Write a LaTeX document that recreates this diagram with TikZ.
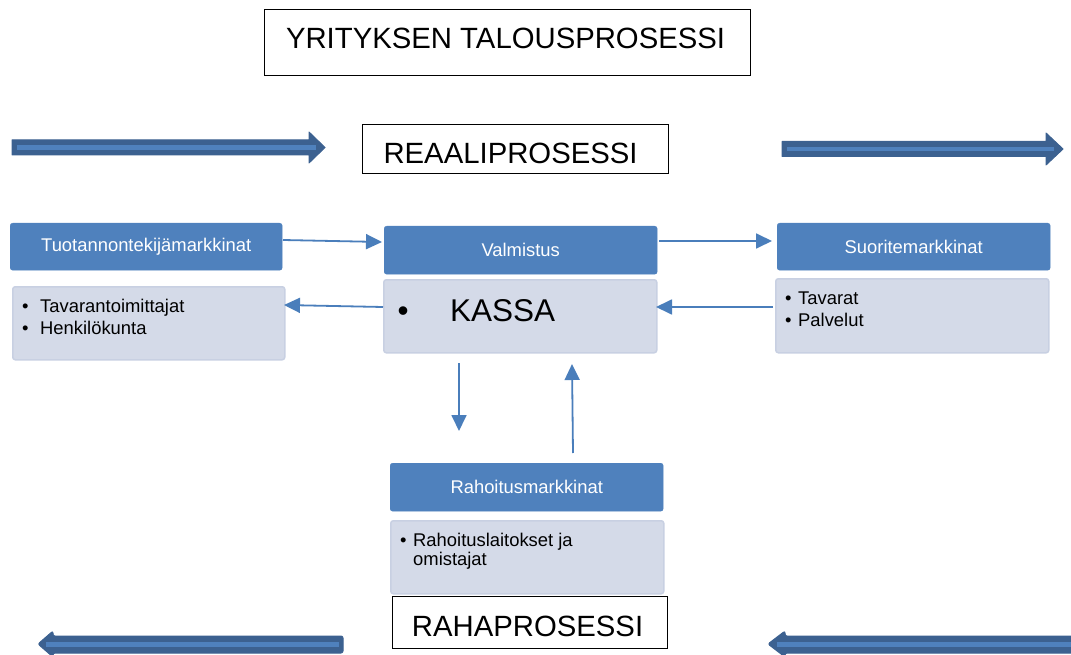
\documentclass[tikz,border=0pt]{standalone}
\usepackage{fontspec}
\setmainfont{Liberation Sans}
\usetikzlibrary{arrows.meta}
\definecolor{hdrblue}{HTML}{4F81BD}
\definecolor{bodyfill}{HTML}{D4DAE8}
\definecolor{bodyline}{HTML}{C8D0E2}
\definecolor{arrblue}{HTML}{4A7EBB}
\definecolor{bigdark}{HTML}{3C6190}
\definecolor{biglight}{HTML}{4F81BD}
\begin{document}
\begin{tikzpicture}[x=1pt,y=-1pt,
 hdr/.style={fill=hdrblue, draw=hdrblue, rounded corners=2.5pt, anchor=north west, inner sep=0pt, text=white, font=\fontsize{18.4}{22}\selectfont},
 body/.style={fill=bodyfill, draw=bodyline, line width=1.5pt, rounded corners=2.5pt, anchor=north west, inner sep=0pt},
 titlebox/.style={draw=black, line width=1.1pt, anchor=north west, inner sep=0pt, font=\fontsize{29.3}{35}\selectfont},
 itemtxt/.style={anchor=base west, inner sep=0pt, font=\fontsize{18.4}{22}\selectfont},
 conn/.style={draw=arrblue, line width=1.8pt, -{Triangle[length=16pt,width=15pt]}},
 bigarrow/.style={fill=bigdark, draw=bigdark, line width=1pt, line join=round},
 bigstripe/.style={draw=biglight, line width=4.5pt}
]
\useasboundingbox (0,0) rectangle (1071,655);
\clip (0,0) rectangle (1071,655);

% titles
\node[titlebox, minimum width=486pt, minimum height=66pt, text depth=9pt] (title) at (264,9) {\hspace*{-4pt}YRITYKSEN TALOUSPROSESSI};
\node[titlebox, minimum width=306pt, minimum height=49pt, text height=28pt, text depth=0pt] (reaali) at (362,124) {\hspace*{-10pt}REAALIPROSESSI};

% big arrows top
\path[bigarrow] (12,140) -- (309,140) -- (309,132) -- (325,147.5) -- (309,163) -- (309,155) -- (12,155) -- cycle;
\draw[bigstripe] (17,147.5) -- (316,147.5);
\path[bigarrow] (782,141.5) -- (1046,141.5) -- (1046,133) -- (1063,149) -- (1046,165) -- (1046,156.5) -- (782,156.5) -- cycle;
\draw[bigstripe] (787,149) -- (1054,149);

% boxes
\node[hdr, minimum width=272pt, minimum height=47pt] (h1) at (10,223) {Tuotannontekijämarkkinat};
\node[body, minimum width=272pt, minimum height=73pt] (b1) at (12,286) {};
\node[hdr, minimum width=273pt, minimum height=48pt] (h2) at (384,226) {Valmistus};
\node[body, minimum width=273pt, minimum height=73pt] (b2) at (383,279) {};
\node[hdr, minimum width=273pt, minimum height=47pt] (h3) at (777,223) {Suoritemarkkinat};
\node[body, minimum width=273pt, minimum height=74pt] (b3) at (775,278) {};
\node[hdr, minimum width=273pt, minimum height=48pt] (h4) at (390,463) {Rahoitusmarkkinat};
\node[body, minimum width=273pt, minimum height=73pt] (b4) at (390,520) {};
\node[titlebox, minimum width=275pt, minimum height=52pt, fill=white, text height=27pt, text depth=0pt] (raha) at (392,596) {\hspace*{-5pt}RAHAPROSESSI};

% item texts
\node[itemtxt] (t1a) at (22,312) {\makebox[18pt][l]{\textbullet}Tavarantoimittajat};
\node[itemtxt] (t1b) at (22,334) {\makebox[18pt][l]{\textbullet}Henkilökunta};
\node[itemtxt, font=\fontsize{31.5}{36}\selectfont] (t2) at (397.5,321) {\makebox[52.5pt][l]{\textbullet}KASSA};
\node[itemtxt] (t3a) at (785,304) {\makebox[13pt][l]{\textbullet}Tavarat};
\node[itemtxt] (t3b) at (785,326) {\makebox[13pt][l]{\textbullet}Palvelut};
\node[itemtxt] (t4a) at (400,546) {\makebox[13pt][l]{\textbullet}Rahoituslaitokset ja};
\node[itemtxt] (t4b) at (400,565) {\makebox[13pt][l]{}omistajat};

% connectors
\coordinate (c1s) at (283,240); \coordinate (c1e) at (382,242);
\coordinate (c2s) at (659,241); \coordinate (c2e) at (772,241);
\coordinate (c3s) at (773,307); \coordinate (c3e) at (656,307);
\coordinate (c4s) at (383,307); \coordinate (c4e) at (284,305);
\coordinate (c5s) at (459,363); \coordinate (c5e) at (459,431);
\coordinate (c6s) at (573,453); \coordinate (c6e) at (572,364);
\draw[conn] (c1s) -- (c1e);
\draw[conn] (c2s) -- (c2e);
\draw[conn] (c3s) -- (c3e);
\draw[conn] (c4s) -- (c4e);
\draw[conn] (c5s) -- (c5e);
\draw[conn] (c6s) -- (c6e);

% big arrows bottom
\path[bigarrow, rounded corners=2pt] (343,636) -- (53,636) -- (53,631) -- (38,644) -- (53,657) -- (53,653) -- (343,653) -- cycle;
\draw[bigstripe] (339,644.5) -- (46,644.5);
\path[bigarrow, rounded corners=2pt] (1080,636) -- (785,636) -- (785,631) -- (768,644) -- (785,657) -- (785,653) -- (1080,653) -- cycle;
\draw[bigstripe] (1075,644.5) -- (777,644.5);
\end{tikzpicture}
\end{document}
